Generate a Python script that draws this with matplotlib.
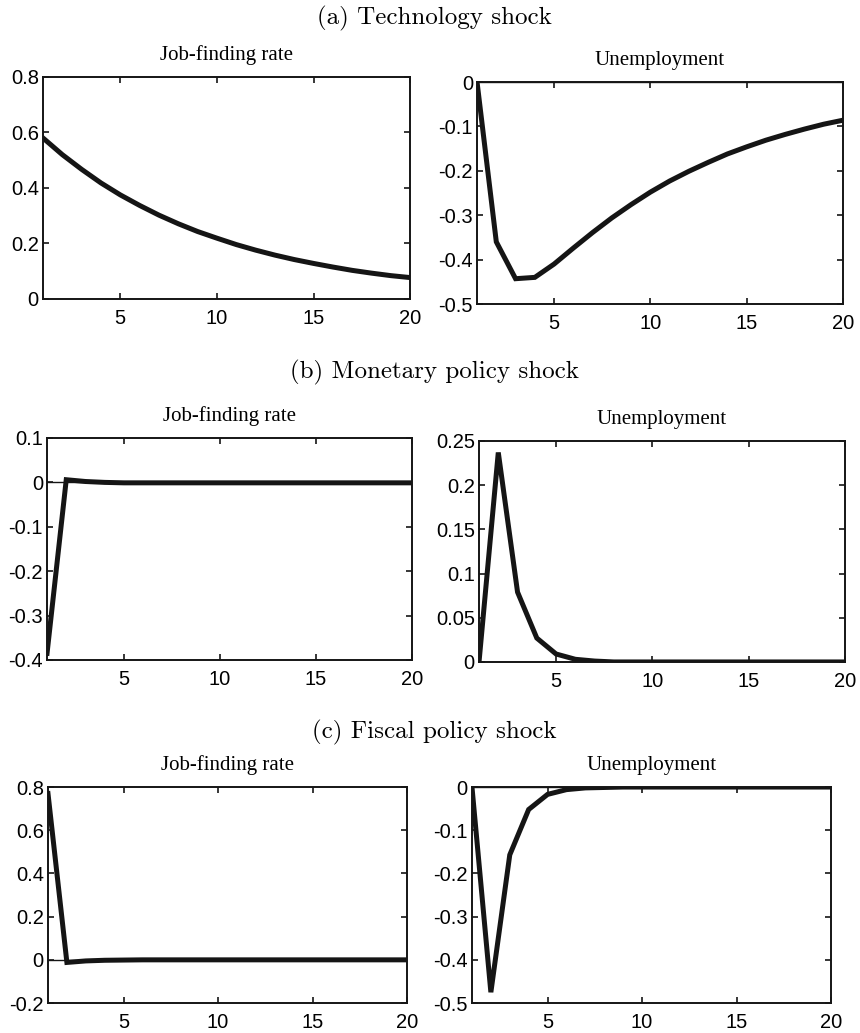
import numpy as np
import matplotlib
matplotlib.use('Agg')
import matplotlib.pyplot as plt
from matplotlib.ticker import FuncFormatter

plt.rcParams['axes.unicode_minus'] = False
plt.rcParams['font.family'] = ['Liberation Sans', 'DejaVu Sans']

# horizon (quarters)
periods = np.arange(1, 21)

# (a) technology shock
tech_jfr = [0.580, 0.520, 0.467, 0.418, 0.375, 0.337, 0.302, 0.271, 0.243, 0.219,
            0.196, 0.176, 0.158, 0.142, 0.128, 0.115, 0.103, 0.093, 0.084, 0.077]
tech_unemp = [0.0, -0.360, -0.443, -0.440, -0.410, -0.374, -0.339, -0.306, -0.276, -0.248,
              -0.223, -0.201, -0.181, -0.162, -0.146, -0.131, -0.118, -0.106, -0.095, -0.086]

# (b) monetary policy shock
mon_jfr = [-0.385, 0.006, 0.002, 0.0, -0.001, -0.001, -0.001, -0.001, -0.001, -0.001,
           -0.001, -0.001, -0.001, -0.001, -0.001, -0.001, -0.001, -0.001, -0.001, -0.001]
mon_unemp = [0.0, 0.237, 0.079, 0.027, 0.009, 0.003, 0.001, 0.0, 0.0, 0.0,
             0.0, 0.0, 0.0, 0.0, 0.0, 0.0, 0.0, 0.0, 0.0, 0.0]

# (c) fiscal policy shock
fis_jfr = [0.770, -0.012, -0.005, -0.002, -0.001, 0.0, 0.0, 0.0, 0.0, 0.0,
           0.0, 0.0, 0.0, 0.0, 0.0, 0.0, 0.0, 0.0, 0.0, 0.0]
fis_unemp = [0.0, -0.475, -0.157, -0.052, -0.017, -0.006, -0.002, -0.001, 0.0, 0.0,
             0.0, 0.0, 0.0, 0.0, 0.0, 0.0, 0.0, 0.0, 0.0, 0.0]

shock_titles = ['(a) Technology shock', '(b) Monetary policy shock', '(c) Fiscal policy shock']
panel_titles = ['Job-finding rate', 'Unemployment']
xticks = [5, 10, 15, 20]

# axes boxes [left, bottom, width, height] in figure fraction
boxes = [
    [0.050, 0.7106, 0.427, 0.2149], [0.5547, 0.7057, 0.4255, 0.2149],
    [0.0547, 0.3611, 0.4243, 0.2149], [0.557, 0.3592, 0.4256, 0.2139],
    [0.0558, 0.029, 0.4175, 0.2091], [0.5488, 0.029, 0.4175, 0.2091],
]
series = [tech_jfr, tech_unemp, mon_jfr, mon_unemp, fis_jfr, fis_unemp]
ylims = [(0, 0.8), (-0.5, 0), (-0.4, 0.1), (0, 0.25), (-0.2, 0.8), (-0.5, 0)]
ysteps = [0.2, 0.1, 0.1, 0.05, 0.2, 0.1]
title_y = [0.9826, 0.639, 0.291]

fig = plt.figure(figsize=(8.6, 10.33), dpi=100)
fmt = FuncFormatter(lambda v, p: '%g' % (round(v, 3) + 0.0))

for i, (box, y) in enumerate(zip(boxes, series)):
    ax = fig.add_axes(box)
    ax.axhline(0, color='#151515', lw=1.0)
    ax.plot(periods, y, color='#151515', lw=3.6, solid_joinstyle='miter')
    ax.set_xlim(1, 20)
    lo, hi = ylims[i]
    ax.set_ylim(lo, hi)
    ax.set_yticks(np.arange(lo, hi + ysteps[i] / 2, ysteps[i]))
    ax.set_xticks(xticks)
    ax.yaxis.set_major_formatter(fmt)
    ax.tick_params(direction='in', top=True, right=True, length=4, width=1.2,
                   labelsize=14.5, color='#151515')
    ax.tick_params(axis='x', pad=7)
    ax.tick_params(axis='y', pad=3)
    for s in ax.spines.values():
        s.set_linewidth(1.4)
        s.set_color('#151515')
    ax.set_title(panel_titles[i % 2], family='Liberation Serif', fontsize=15, pad=12)

for t, ty in zip(shock_titles, title_y):
    fig.text(0.505, ty, t, ha='center', va='center', family='cmr10', fontsize=18)

fig.savefig('out.png', dpi=100)
